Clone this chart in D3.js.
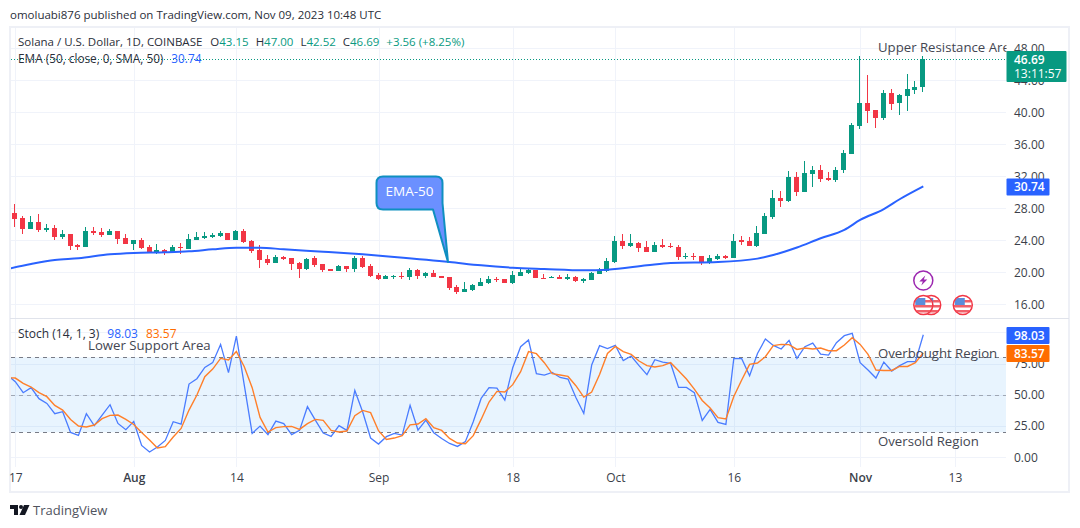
<!DOCTYPE html>
<html>
<head>
<meta charset="utf-8">
<script src="https://cdn.jsdelivr.net/npm/d3@7"></script>
<style>
  html, body { margin: 0; padding: 0; background: #fff; }
  text { font-family: "Open Sans", sans-serif; }
</style>
</head>
<body>
<div id="chart"></div>
<script>
// candles: day 0 is Jul 17 2023, one entry per day up to Nov 09
const opens = [27.42,26.79,25.42,26.29,25.29,25.54,24.42,24.79,23.42,23.17,25.17,25.04,24.67,25.17,24.29,23.54,24.04,23.17,22.54,22.79,22.54,23.17,22.92,24.04,24.29,24.37,24.54,24.92,24.04,25.17,23.92,22.79,21.67,21.17,21.92,21.79,21.17,20.42,21.79,21.04,20.42,20.17,20.79,20.42,21.79,20.79,19.67,19.17,19.42,19.54,19.42,20.29,19.54,19.92,19.54,19.42,18.17,17.54,17.79,18.29,18.67,19.17,19.17,18.67,19.54,19.92,20.29,19.29,19.29,19.42,19.17,19.42,18.92,19.04,19.79,20.17,21.29,23.92,23.29,23.67,23.17,22.54,23.42,23.29,23.17,21.92,22.04,22.04,21.17,21.67,22.04,21.79,24.04,23.92,23.29,24.79,26.92,29.29,28.92,31.92,30.04,32.29,32.79,31.79,31.54,32.79,34.79,38.29,41.17,40.29,39.29,42.42,41.17,42.04,42.79,43.15];
const highs = [28.54,27.04,27.04,27.29,26.04,25.92,25.29,24.79,23.54,25.67,25.67,25.54,25.42,25.17,24.79,24.04,24.29,23.42,23.54,22.92,23.42,23.67,24.79,25.04,25.04,24.92,25.17,24.92,25.29,25.42,24.04,23.42,22.17,22.17,22.04,21.79,21.29,21.79,22.04,21.04,20.42,20.92,20.79,22.04,22.04,21.04,19.92,19.67,19.67,20.04,20.54,20.42,20.04,20.29,19.54,19.42,18.42,18.79,18.54,19.29,19.54,19.42,19.17,20.17,20.54,20.54,20.29,19.79,19.54,19.67,19.79,19.54,19.29,20.04,20.54,21.79,24.54,24.79,24.79,23.79,23.92,23.79,24.17,23.67,23.42,22.42,22.42,22.04,22.17,22.29,22.17,24.79,24.54,24.42,25.79,27.42,30.29,30.17,32.67,32.54,33.92,33.29,33.42,32.54,33.17,35.29,38.67,47.04,44.67,40.29,42.79,42.92,42.29,44.79,43.92,47.00];
const lows = [25.67,24.79,25.42,25.04,25.04,24.04,24.17,22.79,22.79,23.17,24.67,24.42,24.67,23.54,23.54,22.79,22.92,22.54,22.29,22.17,22.54,22.29,22.92,24.04,24.17,24.29,24.42,24.04,24.04,23.67,22.42,20.54,20.92,21.17,21.54,20.29,19.29,20.29,20.67,20.04,20.17,20.17,20.04,20.04,20.54,19.42,19.04,19.17,19.17,19.17,19.04,19.17,19.29,19.42,19.29,17.79,17.29,17.54,17.67,18.29,18.54,18.79,18.67,18.54,19.54,19.79,19.29,19.17,19.29,19.17,19.04,18.79,18.67,19.04,19.79,20.04,21.17,22.92,23.17,22.54,22.54,22.54,23.04,23.04,21.54,21.67,21.54,20.92,21.04,21.54,21.67,21.79,23.42,23.29,23.17,24.79,26.67,28.17,28.79,29.54,30.04,30.67,31.29,31.42,31.29,32.42,34.79,37.92,38.67,38.04,39.04,40.29,39.67,40.17,42.29,42.52];
const closes = [26.67,25.42,26.29,25.29,25.58,24.42,24.79,23.29,23.17,25.17,24.92,24.67,25.17,24.17,23.54,24.04,23.04,22.54,22.79,22.54,23.17,23.04,24.17,24.42,24.54,24.62,24.92,24.04,25.17,23.79,22.67,21.54,21.17,21.92,21.67,21.04,20.42,21.67,20.92,20.29,20.17,20.79,20.42,21.79,20.67,19.54,19.17,19.54,19.54,19.42,20.29,19.54,19.92,19.42,19.29,18.04,17.54,17.92,18.42,18.79,19.17,19.04,18.67,19.67,20.04,20.29,19.29,19.17,19.42,19.17,19.42,18.92,19.17,19.92,20.29,21.42,23.92,23.29,23.67,23.04,22.54,23.42,23.17,23.17,21.92,22.04,21.92,21.17,21.79,22.04,21.79,23.92,23.79,23.29,24.92,27.04,29.29,28.92,31.92,30.04,32.42,32.79,31.67,31.54,32.79,34.92,38.42,41.17,40.17,39.29,42.42,41.04,42.17,42.92,43.17,46.69];

// EMA 50, read at these days
const emaDays = [-1,2,5,8,12,15,19,22,25,28,31,34,39,44,48,55,59,63,67,72,75,80,83,89,94,96,99,102,105,107,110,112,115];
const emaValues = [20.42,21.04,21.54,21.75,22.25,22.42,22.5,22.62,22.87,23.08,23.08,22.87,22.58,22.25,21.92,21.29,20.87,20.58,20.42,20.25,20.33,20.87,21.17,21.29,21.71,22.17,23.1,24.25,25.3,26.54,27.9,29.13,30.74];

// stochastic, first entry is day -1
const stochK = [65.8,60.5,51.7,55.7,46.9,43.1,34.9,36.5,19.9,17.5,34.9,25.3,33.8,42.1,27.1,22.1,28.7,9.5,4.2,8.2,13.5,28.5,26.6,58.6,62.9,71.9,75.7,90.3,67.7,97,57.8,19.1,25,18.1,29,26.9,18.1,21.5,40.5,29.8,19.4,16.7,25.3,21.5,53.5,36.2,15.4,10.6,16.5,19.1,17.8,41.5,21.8,29.8,19.7,15.1,11.1,8.7,12.5,28.5,47.1,55.7,55.4,45.8,71.7,88.5,93.8,66.9,65.8,67.9,63.9,62.6,47.9,35.1,73.8,89.3,86.9,89.5,77.3,81,73.3,66.1,78.1,76.2,75.1,55.9,55.9,51.7,29.5,38.3,27.9,26.3,79.1,78.9,65.3,83.1,94.6,89.5,86.6,93.5,79.1,88.5,91.4,82.6,81.8,91.7,97.3,99.1,75.7,69.8,63.4,76.2,69,73.3,76.5,76.5,98.03];
const stochD = [63.7,63.4,59.1,56.2,51.7,48.5,41.5,37.8,30.3,25,24.2,25.8,30.9,33.5,33.8,30.3,26.3,19.9,13.8,7.4,8.5,16.2,23.1,37.8,49.8,64.5,70.6,79.1,77.8,84.7,72.5,55.7,31.9,20.2,23.7,24.5,24.7,22.3,26.9,30.3,29.5,21.5,20.2,21,33.3,37.5,35.7,21.3,14.3,15.4,17.3,26,26.6,30.9,23.7,21.5,15.1,11.4,10.9,17.3,30.3,44.2,52.7,52.2,58.1,68.5,84.5,82.9,75.7,66.9,65.8,64.7,57.3,48.2,52.2,66.3,83.1,88.7,84.5,82.3,77,73.3,72.2,73.3,75.7,69.3,62.6,54.6,45.5,39.4,31.7,30.6,48.7,61.8,74.3,75.4,80.5,89.3,90.3,90.1,86.3,87.4,86.6,87.4,85.3,85.3,89.8,95.7,90.3,82.3,69.8,69.5,69.5,72.7,72.7,75.7,83.57];

// tick labels
const priceTicks = [16,20,24,28,32,36,40,44,48];
const stochTicks = [0,25,50,75];
const dayTicks = [0,15,28,46,63,76,91,107,119];
const dayLabels = ["17","Aug","14","Sep","18","Oct","16","Nov","13"];

const green = "#089981", red = "#F23645", blue = "#2962FF", orange = "#FF6D00";
const textColor = "#3b3f4a", gridColor = "#f0f3fa";

const svg = d3.select("#chart").append("svg")
    .attr("width", 1080).attr("height", 528)
    .style("display", "block");

const x = d3.scaleLinear().domain([0, 115]).range([15.3, 923.3]);
const yPrice = d3.scaleLinear().domain([16, 48]).range([304.3, 48.3]);
const yStoch = d3.scaleLinear().domain([0, 100]).range([457.3, 332.3]);

const clip = svg.append("defs");
clip.append("clipPath").attr("id", "pricePane").append("rect")
    .attr("x", 11).attr("y", 28).attr("width", 995.5).attr("height", 290);
clip.append("clipPath").attr("id", "stochPane").append("rect")
    .attr("x", 11).attr("y", 320).attr("width", 995.5).attr("height", 147);
clip.append("clipPath").attr("id", "flagClip").append("circle").attr("r", 9);

svg.append("text").attr("x", 10).attr("y", 19)
    .attr("fill", "#2a2e39").attr("font-size", 11.5)
    .text("omoluabi876 published on TradingView.com, Nov 09, 2023 10:48 UTC");

// frame
svg.append("rect").attr("x", 10).attr("y", 27).attr("width", 1059).attr("height", 465)
    .attr("fill", "none").attr("stroke", "#eef0f6").attr("stroke-width", 2);

// grid
const grid = svg.append("g").attr("stroke", gridColor).attr("stroke-width", 1);
grid.selectAll("line.v").data(dayTicks).enter().append("line")
    .attr("class", "v")
    .attr("x1", d => Math.round(x(d)) + 0.5).attr("x2", d => Math.round(x(d)) + 0.5)
    .attr("y1", 28).attr("y2", 467);
grid.selectAll("line.p").data(priceTicks).enter().append("line")
    .attr("class", "p")
    .attr("x1", 11).attr("x2", 1006)
    .attr("y1", d => Math.round(yPrice(d)) + 0.5).attr("y2", d => Math.round(yPrice(d)) + 0.5);
grid.selectAll("line.s").data(stochTicks.concat([100])).enter().append("line")
    .attr("class", "s")
    .attr("x1", 11).attr("x2", 1006)
    .attr("y1", d => Math.round(yStoch(d)) + 0.5).attr("y2", d => Math.round(yStoch(d)) + 0.5);

// pane separator
svg.append("line").attr("x1", 10).attr("x2", 1069).attr("y1", 318.5).attr("y2", 318.5)
    .attr("stroke", "#e0e3eb");

// last price line
svg.append("line").attr("x1", 11).attr("x2", 1006)
    .attr("y1", Math.round(yPrice(46.69)) + 0.5).attr("y2", Math.round(yPrice(46.69)) + 0.5)
    .attr("stroke", green).attr("stroke-dasharray", "1 2");

// candles
const candles = opens.map((o, i) => ({ day: i, o: o, h: highs[i], l: lows[i], c: closes[i] }));
const pricePane = svg.append("g").attr("clip-path", "url(#pricePane)");
const candle = pricePane.selectAll("g.candle").data(candles).enter().append("g")
    .attr("class", "candle")
    .attr("fill", d => d.c >= d.o ? green : red)
    .attr("shape-rendering", "crispEdges");
candle.append("rect")
    .attr("x", d => Math.round(x(d.day)) - 1)
    .attr("width", 1)
    .attr("y", d => yPrice(d.h))
    .attr("height", d => yPrice(d.l) - yPrice(d.h));
candle.append("rect")
    .attr("x", d => Math.round(x(d.day)) - 3)
    .attr("width", 5)
    .attr("y", d => yPrice(Math.max(d.o, d.c)))
    .attr("height", d => Math.max(1, yPrice(Math.min(d.o, d.c)) - yPrice(Math.max(d.o, d.c))));

// ema
const emaLine = d3.line().x(d => x(d[0])).y(d => yPrice(d[1])).curve(d3.curveMonotoneX);
pricePane.append("path")
    .attr("d", emaLine(emaDays.map((d, i) => [d, emaValues[i]])))
    .attr("fill", "none").attr("stroke", blue).attr("stroke-width", 2);

// callout pointing at the ema
const tipX = x(54.8), tipY = yPrice(21.29);
svg.append("path")
    .attr("d", `M383,176.5 H436 Q442.5,176.5 442.5,183 V203 L${tipX},${tipY} L433,209.5 H383 Q376.5,209.5 376.5,203 V183 Q376.5,176.5 383,176.5 Z`)
    .attr("fill", "#6b90ff").attr("stroke", "#0f8fc0").attr("stroke-width", 2)
    .attr("stroke-linejoin", "round");
svg.append("text").attr("x", 409.5).attr("y", 196).attr("text-anchor", "middle")
    .attr("fill", "#fff").attr("font-size", 13.5).text("EMA-50");

// event icons
const flagDays = [116, 115, 120];
flagDays.forEach(d => {
    const g = svg.append("g").attr("transform", `translate(${x(d)},305)`);
    g.append("circle").attr("r", 9.5).attr("fill", "#fff");
    const inner = g.append("g").attr("clip-path", "url(#flagClip)");
    inner.append("rect").attr("x", -9).attr("y", -9).attr("width", 18).attr("height", 18).attr("fill", "#fff");
    [-5, 0, 5].forEach(s => inner.append("rect").attr("x", -9).attr("y", s).attr("width", 18).attr("height", 2.5).attr("fill", "#f0606a"));
    inner.append("rect").attr("x", -8).attr("y", -7).attr("width", 10).attr("height", 7).attr("fill", "#5b8ddb");
    g.append("circle").attr("r", 9.5).attr("fill", "none").attr("stroke", red).attr("stroke-width", 1.5);
});
const bolt = svg.append("g").attr("transform", `translate(${x(115)},280.5)`);
bolt.append("circle").attr("r", 9.5).attr("fill", "#fff").attr("stroke", "#9c27b0").attr("stroke-width", 1.5);
bolt.append("path").attr("d", "M2,-5 L-4,1 H-0.5 L-2,5 L4,-1 H0.5 Z").attr("fill", "#9c27b0");

// stoch pane
svg.append("rect")
    .attr("x", 11).attr("width", 995)
    .attr("y", yStoch(80)).attr("height", yStoch(20) - yStoch(80))
    .attr("fill", "#2196f3").attr("fill-opacity", 0.1);
[80, 50, 20].forEach(v => {
    svg.append("line").attr("x1", 11).attr("x2", 1006)
        .attr("y1", Math.round(yStoch(v)) + 0.5).attr("y2", Math.round(yStoch(v)) + 0.5)
        .attr("stroke", "#787b86").attr("stroke-opacity", v === 50 ? 0.6 : 1)
        .attr("stroke-dasharray", "4 4");
});
const stochPane = svg.append("g").attr("clip-path", "url(#stochPane)");
const stochLine = d3.line().x((d, i) => x(i - 1)).y(d => yStoch(d));
stochPane.append("path").attr("d", stochLine(stochK))
    .attr("fill", "none").attr("stroke", "#4a7cff").attr("stroke-width", 1.3);
stochPane.append("path").attr("d", stochLine(stochD))
    .attr("fill", "none").attr("stroke", "#ff7f2a").attr("stroke-width", 1.4);

// axes
const priceAxis = d3.axisRight(yPrice).tickValues(priceTicks).tickSize(0).tickPadding(0).tickFormat(d3.format(".2f"));
const stochAxis = d3.axisRight(yStoch).tickValues(stochTicks).tickSize(0).tickPadding(0).tickFormat(d3.format(".2f"));
const timeAxis = d3.axisBottom(x).tickValues(dayTicks).tickSize(0).tickPadding(0)
    .tickFormat((d, i) => dayLabels[i]);
[svg.append("g").attr("transform", "translate(1014,0)").call(priceAxis),
 svg.append("g").attr("transform", "translate(1014,0)").call(stochAxis),
 svg.append("g").attr("transform", "translate(0,473)").call(timeAxis)].forEach(g => {
    g.select(".domain").remove();
    g.selectAll("text").attr("fill", textColor).attr("font-size", 12)
        .style("font-family", '"Open Sans", sans-serif');
});
svg.selectAll(".tick text").filter(function() { return ["Aug", "Nov"].includes(this.textContent); })
    .attr("font-weight", 600);

// axis labels
function axisBadge(y, h, w, fill, lines) {
    svg.append("rect").attr("x", 1006.5).attr("y", y).attr("width", w).attr("height", h)
        .attr("rx", 1).attr("fill", fill);
    lines.forEach((t, i) => svg.append("text")
        .attr("x", 1014).attr("y", y + 12.5 + i * 14.5)
        .attr("fill", "#fff").attr("font-size", 12).attr("font-weight", i === 0 ? 600 : 400).text(t));
}
axisBadge(51, 31, 60, green, ["46.69", "13:11:57"]);
axisBadge(178.5, 17, 43, blue, ["30.74"]);
axisBadge(327, 17, 43, blue, ["98.03"]);
axisBadge(345, 17, 43, orange, ["83.57"]);

// legends
function legend(y, size, parts) {
    const t = svg.append("text").attr("x", 18).attr("y", y).attr("font-size", size);
    parts.forEach(p => t.append("tspan").attr("fill", p[1]).attr("dx", p[2] || 0).text(p[0]));
}
legend(46, 11.5, [["Solana / U.S. Dollar, 1D, COINBASE", "#2a2e39"],
    ["O", "#2a2e39", 8], ["43.15", green], ["H", "#2a2e39", 7], ["47.00", green],
    ["L", "#2a2e39", 7], ["42.52", green], ["C", "#2a2e39", 7], ["46.69", green],
    ["+3.56 (+8.25%)", green, 7]]);
legend(63, 11.8, [["EMA (50, close, 0, SMA, 50)", "#2a2e39"], ["30.74", blue, 8]]);
legend(338, 12, [["Stoch (14, 1, 3)", "#2a2e39"], ["98.03", blue, 8], ["83.57", orange, 8]]);

// drawn labels
const noteColor = "#434651";
svg.append("text").attr("x", 878).attr("y", 52).attr("fill", noteColor).attr("font-size", 13.2)
    .attr("clip-path", "url(#pricePane)").text("Upper Resistance Area");
svg.append("text").attr("x", 88).attr("y", 350).attr("fill", noteColor).attr("font-size", 13.2).text("Lower Support Area");
svg.append("text").attr("x", 878).attr("y", 358).attr("fill", noteColor).attr("font-size", 13.2).text("Overbought Region");
svg.append("text").attr("x", 878).attr("y", 446).attr("fill", noteColor).attr("font-size", 13.2).text("Oversold Region");

// footer logo
const logo = svg.append("g").attr("transform", "translate(10,505)").attr("fill", "#131722");
logo.append("path").attr("d", "M0,0 H8 V10 H4 V4 H0 Z");
logo.append("circle").attr("cx", 11).attr("cy", 2).attr("r", 2);
logo.append("path").attr("d", "M14,0 H19.5 L15,10 H9.5 Z");
svg.append("text").attr("x", 33).attr("y", 515).attr("fill", "#50535e").attr("font-size", 13).text("TradingView");
</script>
</body>
</html>
